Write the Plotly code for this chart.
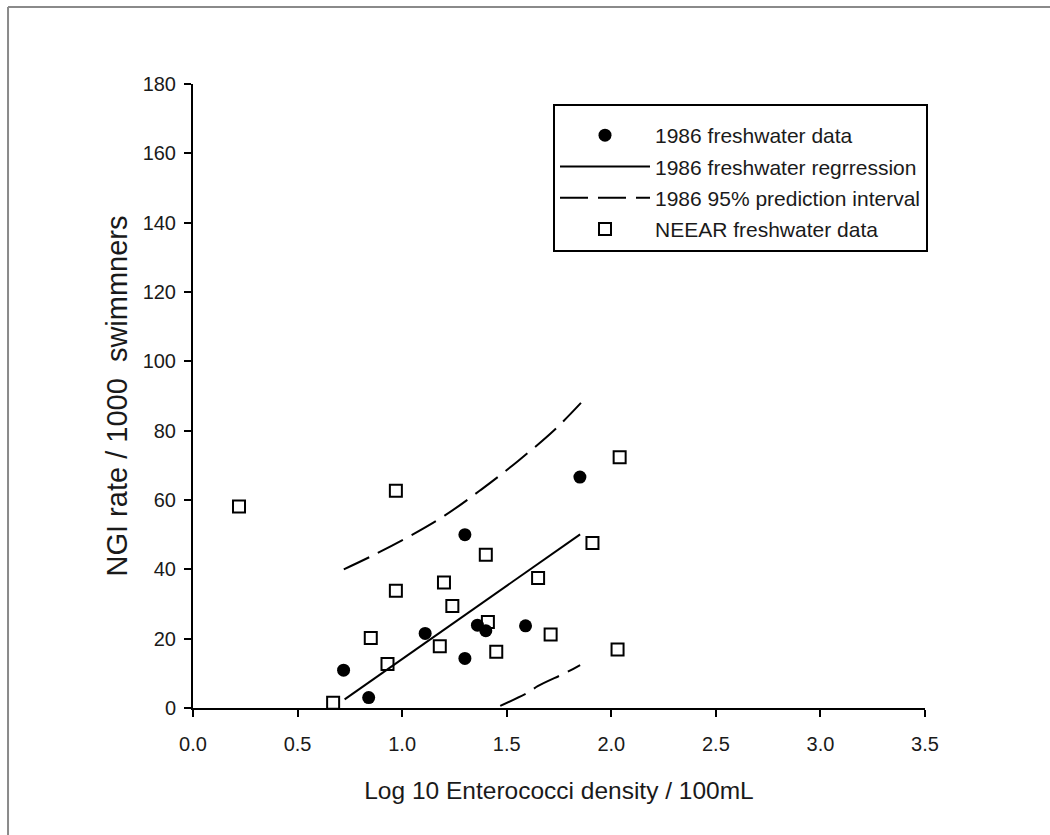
import plotly.graph_objects as go

# 1986 freshwater epidemiological study (filled circles)
fw1986_x = [0.72, 0.84, 1.11, 1.30, 1.30, 1.36, 1.40, 1.59, 1.85]
fw1986_y = [10.9, 3.0, 21.5, 50.0, 14.3, 23.9, 22.3, 23.7, 66.6]

# 1986 regression line end points
reg_x = [0.725, 1.851]
reg_y = [2.5, 50.1]

# 1986 95% prediction interval, upper and lower branches
pi_up_x = [0.721, 0.853, 1.028, 1.203, 1.378, 1.553, 1.728, 1.855]
pi_up_y = [40.0, 43.8, 49.3, 55.5, 63.0, 71.2, 80.2, 88.0]
pi_lo_x = [1.469, 1.609, 1.648, 1.787, 1.851]
pi_lo_y = [0.6, 4.7, 6.3, 10.3, 12.4]

# NEEAR freshwater beach data (open squares)
neear_x = [0.22, 0.97, 0.97, 0.85, 0.93, 0.67, 1.20, 1.24, 1.18,
           1.40, 1.41, 1.45, 1.65, 1.71, 1.91, 2.04, 2.03]
neear_y = [58.1, 62.7, 33.8, 20.2, 12.7, 1.5, 36.2, 29.4, 17.8,
           44.2, 24.8, 16.2, 37.5, 21.2, 47.6, 72.3, 16.9]

x_ticks = [0.0, 0.5, 1.0, 1.5, 2.0, 2.5, 3.0, 3.5]
y_ticks = [0, 20, 40, 60, 80, 100, 120, 140, 160, 180]

FONT = "Liberation Sans, Arial, sans-serif"
INK = "#1a1a1a"

fig = go.Figure()

fig.add_trace(go.Scatter(
    x=fw1986_x, y=fw1986_y, mode="markers", name="1986 freshwater data",
    marker=dict(symbol="circle", size=13, color="black"),
))
fig.add_trace(go.Scatter(
    x=reg_x, y=reg_y, mode="lines", name="1986 freshwater regrression",
    line=dict(color="black", width=2),
))
fig.add_trace(go.Scatter(
    x=pi_up_x, y=pi_up_y, mode="lines", name="1986 95% prediction interval",
    line=dict(color="black", width=2, dash="28px,10px", shape="spline"),
    legendgroup="pi",
))
fig.add_trace(go.Scatter(
    x=pi_lo_x, y=pi_lo_y, mode="lines", name="1986 95% prediction interval",
    line=dict(color="black", width=2, dash="28px,10px", shape="spline"),
    legendgroup="pi", showlegend=False,
))
fig.add_trace(go.Scatter(
    x=neear_x, y=neear_y, mode="markers", name="NEEAR freshwater data",
    marker=dict(symbol="square-open", size=12, color="black",
                line=dict(color="black", width=2)),
))

# page frame (top and left edges)
frame = dict(color="#8a8a8a", width=2)
fig.add_shape(type="line", xref="paper", yref="paper",
              x0=-0.2527, x1=1.25, y0=1.1234, y1=1.1234, line=frame)
fig.add_shape(type="line", xref="paper", yref="paper",
              x0=-0.2527, x1=-0.2527, y0=-0.3, y1=1.1234, line=frame)

fig.update_layout(
    width=1050, height=835,
    margin=dict(l=193, r=125, t=84, b=127),
    paper_bgcolor="white", plot_bgcolor="white",
    showlegend=True,
    legend=dict(
        x=0.4918, y=0.968, xanchor="left", yanchor="top",
        bordercolor="black", borderwidth=2, bgcolor="white",
        font=dict(family=FONT, size=21, color=INK),
        title=dict(text="&nbsp;", font=dict(family=FONT, size=7, color="white")),
        itemwidth=90, tracegroupgap=1,
    ),
    xaxis=dict(
        range=[0, 3.5], tickvals=x_ticks, tickformat=".1f",
        showgrid=False, zeroline=False,
        showline=True, linecolor="black", linewidth=2,
        ticks="outside", ticklen=7, tickwidth=2, tickcolor="black",
        tickfont=dict(family=FONT, size=20, color=INK),
        ticklabelstandoff=10,
        title=dict(text="Log 10 Enterococci density / 100mL",
                   font=dict(family=FONT, size=24.5, color=INK), standoff=28),
    ),
    yaxis=dict(
        range=[0, 180], tickvals=y_ticks,
        showgrid=False, zeroline=False,
        showline=True, linecolor="black", linewidth=2,
        ticks="outside", ticklen=7, tickwidth=2, tickcolor="black",
        tickfont=dict(family=FONT, size=20, color=INK),
        ticklabelstandoff=4,
        title=dict(text="NGI rate / 1000  swimmners",
                   font=dict(family=FONT, size=29, color=INK), standoff=6),
    ),
)

fig.write_html("out.html")
